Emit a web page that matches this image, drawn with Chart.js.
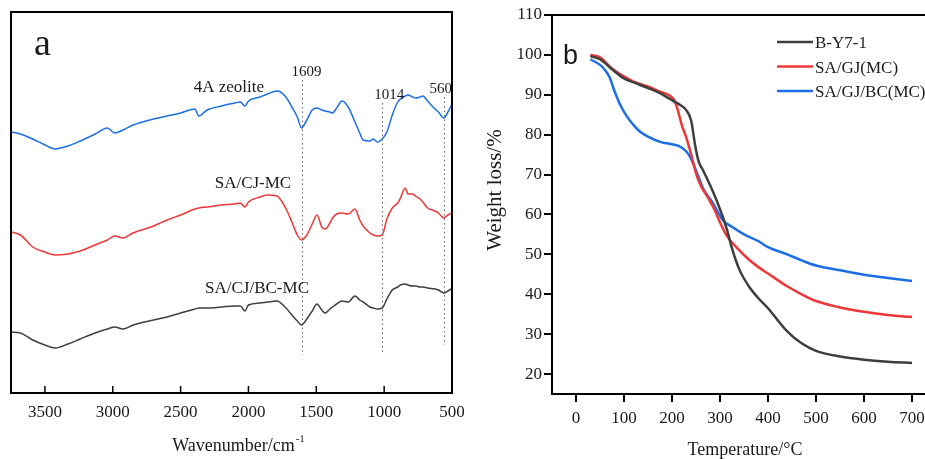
<!DOCTYPE html>
<html>
<head>
<meta charset="utf-8">
<script src="https://cdn.jsdelivr.net/npm/chart.js@4.4.1/dist/chart.umd.min.js"></script>
<style>
  html, body { margin:0; padding:0; background:#fff; overflow:hidden; width:925px; height:459px; }
  #ftir { position:absolute; left:0; top:0; }
  #tga { position:absolute; left:470px; top:0; }
</style>
</head>
<body>
<canvas id="ftir" width="470" height="459"></canvas>
<canvas id="tga" width="480" height="459"></canvas>
<script>
// ---- panel a : FTIR (offset transmittance, a.u.) ----
const wavenumbers = [3750,3680,3590,3500,3425,3330,3240,3130,3040,2985,
  2925,2850,2700,2600,2500,2395,2365,2305,2200,2100,
  2060,2026,2000,1915,1860,1790,1730,1680,1640,1609,
  1570,1530,1495,1460,1435,1400,1380,1350,1310,1265,
  1215,1180,1155,1105,1080,1050,1014,980,940,900,
  880,845,825,790,770,735,715,680,625,600,
  560,530,500];
const zeolite4A = [261,259,254,248,244,247,252,259,265,260,
  263,268,274,277,280,284,277,283,287,290,
  291,287,292,296,299,302,297,286,276,265,
  273,283,285,283,282,281,280,285,292,286,
  271,260,253,252,254,251,254,261,278,291,
  294,297,298,296,295,296,297,292,284,281,
  275,281,289];
const saCjMc = [161,158,146,141,138,139,142,148,153,157,
  155,160,167,173,178,184,185,186,188,189,
  190,186,191,196,198,197,186,171,158,153,
  158,169,178,166,164,170,175,179,180,179,
  184,173,167,160,158,157,158,174,185,190,
  195,205,199,199,197,194,191,185,182,180,
  175,178,180];
const saCjBcMc = [61,60,53,48,45,49,54,60,64,66,
  64,68,73,76,80,84,85,85,86,87,
  87,82,88,90,91,92,86,78,72,68,
  74,82,89,83,80,84,86,89,92,91,
  97,93,91,86,85,84,85,94,103,106,
  108,109,108,107,107,106,106,105,104,103,
  100,102,105];
const wnTicks = [3500,3000,2500,2000,1500,1000,500];
const peakMarks = [1609, 1014, 560];

// ---- panel b : TGA ----
const tempBY = [30,50,75,100,120,150,175,195,205,215,230,240,248,255,265,285,300,315,325,340,360,380,400,440,470,500,550,600,650,700];
const weightBY = [99.7,98.9,96.4,94.1,93.1,91.7,90.4,89,88.3,87.6,86.1,83.5,77.5,73.5,71,65.8,61.3,56,51.5,46.3,42,39,36.5,30.7,27.7,25.8,24.4,23.6,23.1,22.8];
const tempSAGJ = [30,50,75,100,120,150,175,195,205,212,220,230,240,250,260,275,290,300,315,335,360,380,400,440,470,500,550,600,650,700];
const weightSAGJ = [100,99.4,96.6,94.6,93.3,92.1,90.8,89.8,88.6,86.2,82.6,79.2,75,70.3,67.2,64.2,60.8,58,54.5,51.7,48.7,46.8,45.2,42,40,38.3,36.7,35.6,34.8,34.3];
const tempSAGJBC = [30,50,60,70,80,92,106,120,133,150,175,200,220,235,245,255,265,285,305,325,350,380,400,440,470,500,550,600,650,700];
const weightSAGJBC = [98.9,97.5,96.3,94.4,91,87.5,84.6,82.4,80.8,79.5,78.2,77.6,76.8,75,72.5,69.5,66.5,62.9,58.7,56.9,55,53.3,51.8,50,48.5,47.2,46,44.9,44.1,43.3];
const tempTicks = [0,100,200,300,400,500,600,700];
const weightTicks = [20,30,40,50,60,70,80,90,100,110];

const BLUE = "rgb(28,110,230)", RED = "rgb(240,55,55)", DARK = "rgb(62,62,62)";
const SERIF = "'Liberation Serif','Times New Roman',serif";
Chart.defaults.font.family = SERIF;
Chart.defaults.color = "#1a1a1a";

function pts(xs, ys){ return xs.map((x,i) => ({ x, y: ys[i] })); }
function line(label, xs, ys, color, w){
  return { label, data: pts(xs, ys), borderColor: color, borderWidth: w, pointRadius: 0,
    fill: false, cubicInterpolationMode: "monotone" };
}
function plain(v){ return String(v); }
function noPad(s){ s.paddingLeft = 0; s.paddingRight = 0; }

// panel a decorations
const ftirDeco = {
  id: "ftirDeco",
  afterDraw(chart){
    const { ctx, chartArea: a, scales: { x, y } } = chart;
    ctx.save();
    // dotted peak lines and labels
    const spans = [[313,38],[290,41],[296,48]];
    const dx = [5,7,-3], base = [317,294,300];
    ctx.strokeStyle = "#666"; ctx.lineWidth = 1; ctx.setLineDash([1.5,3]);
    peakMarks.forEach((p,i) => {
      const px = Math.round(x.getPixelForValue(p)) + 0.5;
      ctx.beginPath(); ctx.moveTo(px, y.getPixelForValue(spans[i][0])); ctx.lineTo(px, y.getPixelForValue(spans[i][1])); ctx.stroke();
    });
    ctx.setLineDash([]);
    ctx.fillStyle = "#1a1a1a"; ctx.textAlign = "center"; ctx.textBaseline = "alphabetic";
    ctx.font = "15px " + SERIF;
    peakMarks.forEach((p,i) => ctx.fillText(String(p), x.getPixelForValue(p) + dx[i], y.getPixelForValue(base[i])));
    // curve names
    ctx.font = "17px " + SERIF;
    [["4A zeolite",2144,301],["SA/CJ-MC",1967,205],["SA/CJ/BC-MC",1937,100]].forEach(([t,w,v]) =>
      ctx.fillText(t, x.getPixelForValue(w), y.getPixelForValue(v)));
    // inward ticks
    ctx.strokeStyle = "#000"; ctx.lineWidth = 1.5;
    wnTicks.forEach(v => {
      const px = x.getPixelForValue(v);
      ctx.beginPath(); ctx.moveTo(px, a.bottom); ctx.lineTo(px, a.bottom - 7); ctx.stroke();
    });
    // frame
    ctx.lineWidth = 2;
    ctx.strokeRect(a.left, a.top, a.right - a.left, a.bottom - a.top);
    // panel letter
    ctx.textAlign = "left"; ctx.font = "38px " + SERIF;
    ctx.fillText("a", 34, 55);
    // axis title with superscript
    ctx.font = "18px " + SERIF;
    const t1 = "Wavenumber/cm", w1 = ctx.measureText(t1).width;
    ctx.font = "11px " + SERIF;
    const w2 = ctx.measureText("-1").width;
    const sx = 238 - (w1 + w2) / 2;
    ctx.font = "18px " + SERIF; ctx.fillText(t1, sx, 451);
    ctx.font = "11px " + SERIF; ctx.fillText("-1", sx + w1 + 1, 442);
    ctx.restore();
  }
};

new Chart(document.getElementById("ftir"), {
  type: "line",
  data: { datasets: [
    line("4A zeolite", wavenumbers, zeolite4A, BLUE, 1.5),
    line("SA/CJ-MC", wavenumbers, saCjMc, RED, 1.5),
    line("SA/CJ/BC-MC", wavenumbers, saCjBcMc, DARK, 1.5)
  ]},
  options: {
    responsive: false, animation: false,
    layout: { padding: { left: 11, top: 12, right: 18, bottom: 0 } },
    plugins: { legend: { display: false }, tooltip: { enabled: false } },
    scales: {
      x: { type: "linear", reverse: true, min: 500, max: 3750,
        afterBuildTicks(s){ s.ticks = wnTicks.map(v => ({ value: v })); },
        afterFit(s){ s.height = 66; noPad(s); },
        ticks: { font: { size: 17 }, padding: 1, maxRotation: 0, autoSkip: false, callback: plain },
        grid: { display: false }, border: { display: false } },
      y: { display: false, min: 0, max: 381 }
    }
  },
  plugins: [ftirDeco]
});

// panel b decorations
const tgaDeco = {
  id: "tgaDeco",
  afterDraw(chart){
    const { ctx, chartArea: a } = chart;
    ctx.save();
    ctx.strokeStyle = "#000"; ctx.lineWidth = 2;
    ctx.beginPath(); ctx.moveTo(a.left, a.top); ctx.lineTo(a.right, a.top); ctx.lineTo(a.right, a.bottom); ctx.stroke();
    // legend
    const ox = -470;
    ctx.font = "17px " + SERIF; ctx.fillStyle = "#1a1a1a"; ctx.textAlign = "left"; ctx.textBaseline = "alphabetic";
    chart.data.datasets.forEach((d,i) => {
      const ly = 42 + i * 24.5;
      ctx.strokeStyle = d.borderColor; ctx.lineWidth = 2.5;
      ctx.beginPath(); ctx.moveTo(777 + ox, ly); ctx.lineTo(813 + ox, ly); ctx.stroke();
      ctx.fillText(d.label, 815 + ox, ly + 6);
    });
    // titles
    ctx.textAlign = "center";
    ctx.font = "18px " + SERIF;
    ctx.fillText("Temperature/°C", 745 + ox, 455);
    ctx.save();
    ctx.translate(501 + ox, 190); ctx.rotate(-Math.PI / 2);
    ctx.font = "21px " + SERIF;
    ctx.fillText("Weight loss/%", 0, 0);
    ctx.restore();
    ctx.textAlign = "left";
    ctx.font = "27px 'Liberation Sans', Arial, sans-serif";
    ctx.fillText("b", 563 + ox, 64);
    ctx.restore();
  }
};

new Chart(document.getElementById("tga"), {
  type: "line",
  data: { datasets: [
    line("B-Y7-1", tempBY, weightBY, DARK, 2.5),
    line("SA/GJ(MC)", tempSAGJ, weightSAGJ, RED, 2.5),
    line("SA/GJ/BC(MC)", tempSAGJBC, weightSAGJBC, BLUE, 2.5)
  ]},
  options: {
    responsive: false, animation: false,
    layout: { padding: { left: 0, top: 15, right: 14, bottom: 0 } },
    plugins: { legend: { display: false }, tooltip: { enabled: false } },
    scales: {
      x: { type: "linear", min: -50, max: 750,
        afterBuildTicks(s){ s.ticks = tempTicks.map(v => ({ value: v })); },
        afterFit(s){ s.height = 65; noPad(s); },
        ticks: { font: { size: 17 }, padding: 6, maxRotation: 0, autoSkip: false, callback: plain },
        grid: { drawOnChartArea: false, drawTicks: true, tickLength: 8, color: "#000", lineWidth: 2 },
        border: { display: true, color: "#000", width: 2 } },
      y: { min: 15, max: 110,
        afterBuildTicks(s){ s.ticks = weightTicks.map(v => ({ value: v })); },
        afterFit(s){ s.width = 82; },
        ticks: { font: { size: 17 }, padding: 2, autoSkip: false, callback: plain },
        grid: { drawOnChartArea: false, drawTicks: true, tickLength: 8, color: "#000", lineWidth: 2 },
        border: { display: true, color: "#000", width: 2 } }
    }
  },
  plugins: [tgaDeco]
});
</script>
</body>
</html>
